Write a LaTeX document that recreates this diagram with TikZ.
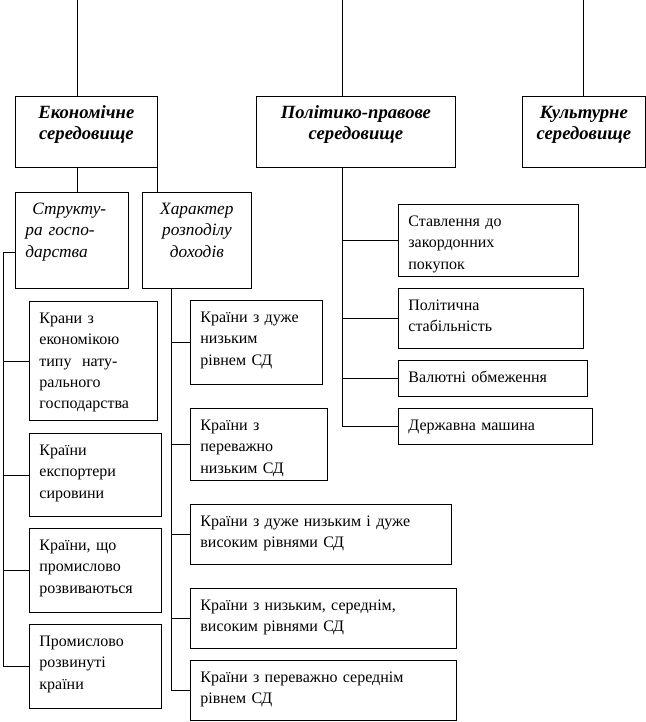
\documentclass[tikz,border=0pt]{standalone}
\usepackage{fontspec}
\setmainfont{Liberation Serif}
\hyphenpenalty=10000
\begin{document}
\begin{tikzpicture}[
    x=0.75pt, y=-0.75pt, line width=0.6pt,
    box/.style={draw, anchor=north west, inner xsep=7.5pt, inner ysep=4pt, text height=12.5pt, align=left, font=\fontsize{12}{16}\selectfont},
    head/.style={box, align=center, font=\fontsize{14}{15.5}\selectfont\bfseries\itshape},
    sub/.style={box, font=\fontsize{13}{16}\selectfont\itshape},
]
\useasboundingbox (0,0) rectangle (646,722);

% top level
\node[head, text width=91.5pt, text depth=33pt] (ekon) at (15,96) {Економічне\\середовище};
\node[head, text width=134.25pt, text depth=33pt] (polit) at (256,96) {Політико-правове\\середовище};
\node[head, text width=77.25pt, text depth=33pt] (kult) at (522,96) {Культурне\\середовище};

\node[sub, text width=69.75pt, text depth=51.5pt] (strukt) at (15,192) {\hspace*{0.4em}Структу-\\ра госпо-\\дарства};
\node[sub, align=center, text width=66.75pt, text depth=51.5pt] (khar) at (142,192) {Характер\\розподілу\\доходів};

% economy structure
\node[box, text width=81pt, text depth=68.75pt] (natur) at (29,301) {Крани з\\економікою\\типу \ нату-\\рального\\господарства};
\node[box, text width=84pt, text depth=41.75pt] (eksp) at (29,433) {Країни\\експортери\\сировини};
\node[box, text width=84pt, text depth=42.5pt] (razv) at (29,528) {Країни, що\\промислово\\розвиваються};
\node[box, text width=84pt, text depth=42.5pt] (promrozv) at (29,624) {Промислово\\розвинуті\\країни};

% income distribution
\node[box, text width=84pt, text depth=42.5pt] (r1) at (190,300) {Країни з дуже\\низьким\\рівнем СД};
\node[box, text width=87.75pt, text depth=33.5pt] (r2) at (190,408) {Країни з\\переважно\\низьким СД};
\node[box, text width=180.75pt, text depth=24.5pt] (r3) at (190,504) {Країни з дуже низьким і дуже\\високим рівнями СД};
\node[box, text width=184.5pt, text depth=24.5pt] (r4) at (190,588) {Країни з низьким, середнім,\\високим рівнями СД};
\node[box, text width=184.5pt, text depth=24.5pt] (r5) at (190,660) {Країни з переважно середнім\\рівнем СД};

% political-legal
\node[box, text width=120pt, text depth=33.5pt] (stavl) at (398,204) {Ставлення до\\закордонних\\покупок};
\node[box, text width=123.75pt, text depth=24.5pt] (stab) at (398,288) {Політична\\стабільність};
\node[box, text width=126.75pt, text depth=6.5pt] (valut) at (398,360) {Валютні обмеження};
\node[box, text width=130.5pt, text depth=6.5pt] (derzh) at (398,408) {Державна машина};

\coordinate (ekontop) at (77,0);
\coordinate (polittop) at (342,0);
\coordinate (kulttop) at (583,0);
\coordinate (ltrunk) at (3,252);
\coordinate (ktrunk) at (171,0);

\draw (ekontop) -- (ekontop |- ekon.north);
\draw (polittop) -- (polittop |- polit.north);
\draw (kulttop) -- (kulttop |- kult.north);
\draw (ekontop |- ekon.south) -- (ekontop |- strukt.north);
\draw (ekon.south east) -- (ekon.south east |- khar.north);

\draw (strukt.west |- ltrunk) -- (ltrunk) |- (promrozv.west);
\foreach \n in {natur, eksp, razv}
    \draw (ltrunk |- \n.west) -- (\n.west);

\draw (ktrunk |- khar.south) |- (r5.west);
\foreach \n in {r1, r2, r3, r4}
    \draw (ktrunk |- \n.west) -- (\n.west);

\draw (polittop |- polit.south) |- (derzh.west);
\foreach \n in {stavl, stab, valut}
    \draw (polittop |- \n.west) -- (\n.west);

\end{tikzpicture}
\end{document}
